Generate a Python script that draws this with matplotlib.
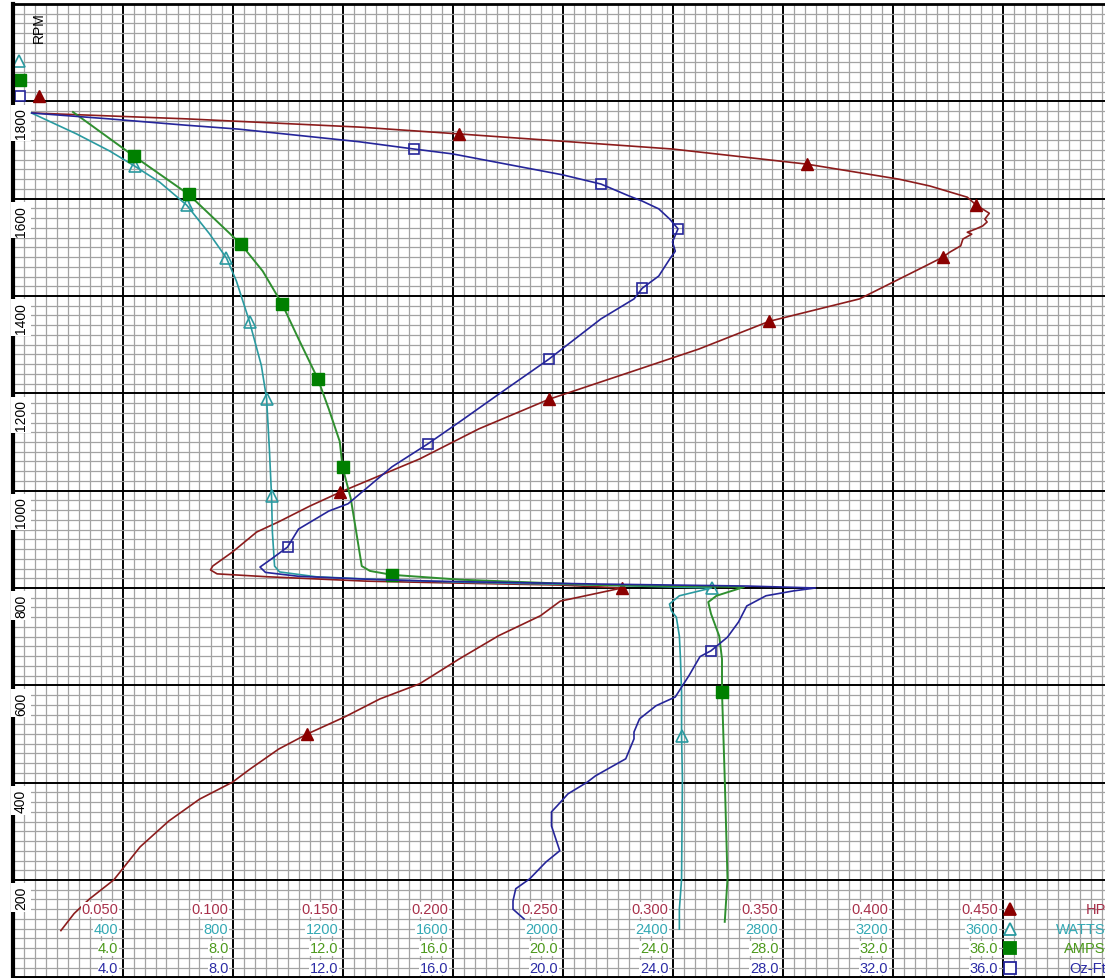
import matplotlib.pyplot as plt
from matplotlib.ticker import MultipleLocator

plt.rcParams['font.family'] = ['Liberation Sans', 'DejaVu Sans']

# --- data (speed in RPM vs each quantity) ---
hp_rpm = [1776, 1764, 1747, 1733, 1702, 1671, 1640, 1626, 1603, 1587,
          1570, 1558, 1552, 1544, 1538, 1531, 1527, 1517, 1503, 1490,
          1480, 1455, 1394, 1348, 1291, 1250, 1188, 1127, 1065, 997,
          968, 936, 915, 874, 845, 837, 829, 823, 814, 810,
          806, 800, 773, 743, 702, 654, 603, 572, 535, 500,
          469, 428, 401, 366, 321, 268, 200, 161, 131, 96]
hp_val = [0.009, 0.079, 0.158, 0.203, 0.300, 0.361, 0.403, 0.417, 0.434, 0.438,
          0.444, 0.442, 0.443, 0.441, 0.438, 0.434, 0.436, 0.432, 0.431, 0.426,
          0.423, 0.412, 0.385, 0.344, 0.312, 0.285, 0.244, 0.212, 0.185, 0.149,
          0.135, 0.121, 0.111, 0.100, 0.091, 0.090, 0.093, 0.116, 0.161, 0.203,
          0.249, 0.277, 0.249, 0.240, 0.221, 0.203, 0.185, 0.167, 0.151, 0.134,
          0.121, 0.108, 0.100, 0.085, 0.071, 0.058, 0.046, 0.035, 0.028, 0.022]
hp_marks = [3, 5, 9, 20, 23, 26, 29, 41, 49]

w_rpm = [1776, 1733, 1698, 1667, 1634, 1587, 1528, 1478, 1431, 1347,
         1257, 1189, 1086, 989, 915, 845, 833, 823, 817, 812,
         806, 800, 784, 767, 753, 740, 701, 654, 586, 496,
         407, 202, 140, 99]
w_val = [69, 233, 353, 444, 535, 633, 716, 778, 814, 862,
         905, 924, 934, 942, 945, 953, 971, 1105, 1345, 1625,
         2134, 2542, 2425, 2389, 2396, 2414, 2425, 2429, 2433, 2433,
         2436, 2433, 2425, 2425]
w_marks = [3, 5, 7, 9, 11, 13, 21, 29]

a_rpm = [1778, 1688, 1609, 1507, 1451, 1384, 1312, 1230, 1168, 1101,
         1049, 984, 915, 845, 835, 827, 817, 806, 802, 784,
         771, 747, 701, 654, 586, 408, 202, 114]
a_val = [2.2, 4.4, 6.4, 8.3, 9.1, 9.8, 10.4, 11.1, 11.5, 11.9,
         12.0, 12.3, 12.5, 12.7, 13.0, 13.8, 16.3, 21.4, 26.6, 25.6,
         25.3, 25.4, 25.7, 25.8, 25.8, 25.9, 26.0, 25.9]
a_marks = [1, 2, 3, 5, 7, 10, 15, 24]

t_rpm = [1776, 1764, 1751, 1743, 1717, 1702, 1692, 1649, 1630, 1606,
         1595, 1579, 1558, 1538, 1511, 1492, 1476, 1441, 1416, 1394,
         1353, 1270, 1199, 1143, 1096, 1049, 973, 958, 921, 884,
         859, 843, 832, 824, 818, 814, 808, 804, 800, 794,
         784, 763, 730, 699, 671, 659, 620, 576, 558, 531,
         504, 490, 449, 414, 401, 377, 352, 340, 311, 260,
         237, 202, 182, 157, 140, 120]
t_val = [0.7, 3.5, 6.3, 8.2, 12.6, 14.6, 16.0, 20.0, 21.4, 22.4,
         22.9, 23.5, 23.9, 24.2, 24.0, 24.1, 23.9, 23.5, 22.9, 22.6,
         21.4, 19.5, 17.7, 16.3, 15.1, 13.8, 12.2, 11.5, 10.4, 10.0,
         9.4, 9.0, 9.2, 10.4, 12.9, 15.3, 21.4, 26.7, 29.2, 28.4,
         27.4, 26.7, 26.4, 26.0, 25.4, 25.0, 24.6, 24.1, 23.4, 22.8,
         22.6, 22.6, 22.3, 21.2, 20.9, 20.2, 19.8, 19.6, 19.6, 19.9,
         19.4, 18.8, 18.3, 18.2, 18.2, 18.6]
t_marks = [5, 8, 13, 18, 21, 24, 29, 44]

rpm_ticks = [200, 400, 600, 800, 1000, 1200, 1400, 1600, 1800]
hp_ticks = [0.05, 0.10, 0.15, 0.20, 0.25, 0.30, 0.35, 0.40, 0.45]
w_ticks = [400, 800, 1200, 1600, 2000, 2400, 2800, 3200, 3600]
a_ticks = [4.0, 8.0, 12.0, 16.0, 20.0, 24.0, 28.0, 32.0, 36.0]
t_ticks = [4.0, 8.0, 12.0, 16.0, 20.0, 24.0, 28.0, 32.0, 36.0]

# colours
c_hp, c_hp_txt = '#8c1c1c', '#a8304a'
c_w, c_w_txt = '#2a9aa0', '#33a9b4'
c_a, c_a_mk, c_a_txt = '#2f8f2f', '#008000', '#4d9a1c'
c_t, c_t_txt = '#25259a', '#2c2ca6'

fig = plt.figure(figsize=(11.05, 9.79), dpi=100)
ax = fig.add_axes([12.5 / 1105, 0.7 / 979, 1100 / 1105, 973.3 / 979])
ax.set_xlim(0, 0.5)
ax.set_ylim(0, 2000)
ax.xaxis.set_major_locator(MultipleLocator(0.05))
ax.xaxis.set_minor_locator(MultipleLocator(0.005))
ax.yaxis.set_major_locator(MultipleLocator(200))
ax.yaxis.set_minor_locator(MultipleLocator(20))
ax.set_axisbelow(True)
ax.grid(which='minor', color='#a3a3a3', lw=0.9)
ax.grid(which='major', color='black', lw=1.4)
ax.tick_params(which='both', length=0, labelbottom=False, labelleft=False)
ax.spines['left'].set_linewidth(3)
ax.spines['top'].set_linewidth(2)

# one x scale per quantity, all sharing the RPM axis
axw = ax.twiny()
axw.set_xlim(0, 4000)
axa = ax.twiny()
axa.set_xlim(0, 40)
axt = ax.twiny()
axt.set_xlim(0, 40)
for a in (axw, axa, axt):
    a.set_axis_off()

ax.plot(hp_val, hp_rpm, color=c_hp, lw=1.2, marker='^', ms=9,
        markevery=hp_marks, mfc='#8b0000', mec='#8b0000')
axw.plot(w_val, w_rpm, color=c_w, lw=1.2, marker='^', ms=8,
         markevery=w_marks, mfc='none', mec=c_w, mew=1.2)
axa.plot(a_val, a_rpm, color=c_a, lw=1.4, marker='s', ms=9,
         markevery=a_marks, mfc=c_a_mk, mec=c_a_mk)
axt.plot(t_val, t_rpm, color=c_t, lw=1.2, marker='s', ms=7.5,
         markevery=t_marks, mfc='none', mec=c_t, mew=1.2)

# rpm labels inside the plot
for r in rpm_ticks:
    ax.annotate(str(r), xy=(0.0039, r), xytext=(0, -4.3), textcoords='offset points',
                rotation=90, ha='center', va='top', fontsize=10,
                bbox=dict(facecolor='white', edgecolor='none', pad=2))
ax.text(0.012, 1953, 'RPM', rotation=90, ha='center', va='center', fontsize=10)

# bottom scale rows
rows = [(ax, hp_ticks, '{:.3f}', 140, c_hp_txt),
        (axw, w_ticks, '{:.0f}', 100, c_w_txt),
        (axa, a_ticks, '{:.1f}', 60, c_a_txt),
        (axt, t_ticks, '{:.1f}', 20, c_t_txt)]
for a, ticks, fmt, yrow, col in rows:
    for v in ticks:
        a.annotate(fmt.format(v), xy=(v, yrow), xytext=(-3, 0), textcoords='offset points',
                   ha='right', va='center', fontsize=10.5, color=col,
                   bbox=dict(facecolor='white', edgecolor='none', pad=0.3))

# legend keys at the bottom right
keys = [('HP', 140, '^', '#8b0000', '#8b0000', c_hp_txt),
        ('WATTS', 100, '^', 'white', c_w, c_w_txt),
        ('AMPS', 60, 's', c_a_mk, c_a_mk, c_a_txt),
        ('Oz-Ft', 20, 's', 'white', c_t, c_t_txt)]
for name, yrow, mk, fc, ec, col in keys:
    ax.plot([0.4535], [yrow], marker=mk, ms=9, mfc=fc, mec=ec, mew=1.3, ls='none')
    ax.text(0.4970, yrow, name, ha='right', va='center', fontsize=10.5, color=col)

# keys at the top left of the rpm scale
ax.plot([0.003], [1883], marker='^', ms=8, mfc='white', mec=c_w, mew=1.2, ls='none', clip_on=False)
ax.plot([0.0034], [1844], marker='s', ms=8, mfc=c_a_mk, mec=c_a_mk, ls='none', clip_on=False)
ax.plot([0.0034], [1811], marker='s', ms=7.5, mfc='white', mec=c_t, mew=1.2, ls='none', clip_on=False)
ax.plot([0.012], [1811], marker='^', ms=9, mfc='#8b0000', mec='#8b0000', ls='none')

fig.savefig('out.png', dpi=100)
